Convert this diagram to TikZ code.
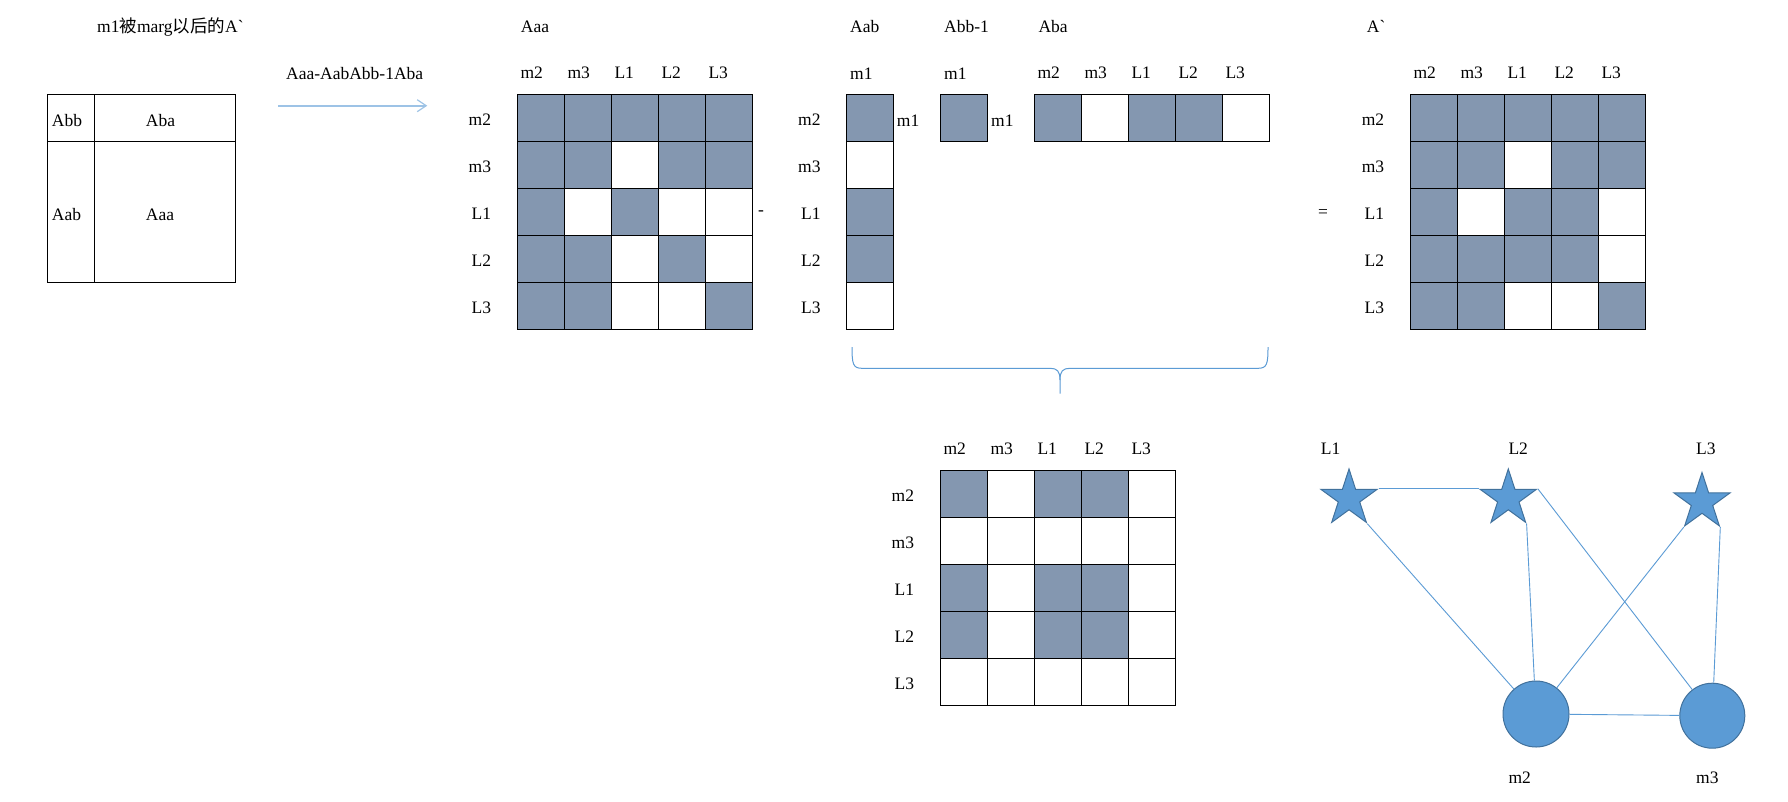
\documentclass[tikz,border=0pt]{standalone}
\usepackage{fontspec}
\setmainfont{Liberation Serif}
\newfontfamily\cjk{Noto Sans CJK SC}
\usetikzlibrary{shapes.geometric,arrows.meta}
\definecolor{cellc}{RGB}{132,151,176}
\definecolor{nodeblue}{RGB}{91,155,213}
\definecolor{nodeedge}{RGB}{65,113,156}
\definecolor{edgec}{RGB}{91,155,213}
\definecolor{arrowc}{RGB}{157,195,230}
\newcommand\lblsize{\fontsize{17.5}{20}\selectfont}
% #1 x0, #2 y0, #3 cols, #4 rows
\newcommand\mgrid[4]{%
  \foreach \i in {0,...,#3} \draw[gridline] ({#1+47*\i},#2) -- ({#1+47*\i},{#2+47*#4});
  \foreach \j in {0,...,#4} \draw[gridline] (#1,{#2+47*\j}) -- ({#1+47*#3},{#2+47*\j});
}
% #1 x0, #2 y0, #3 list of row/col filled
\newcommand\mfill[3]{%
  \foreach \r/\c in {#3} \fill[cellc] ({#1+47*\c},{#2+47*\r}) rectangle ++(47,47);
}
% row labels: #1 x0, #2 y0, #3 prefix
\newcommand\rowlabels[3]{%
  \foreach \n [count=\k from 0] in {m2,m3,L1,L2,L3}
    \node[lbl,anchor=base east] (#3r\k) at ({#1-26},{#2+47*\k+31.5}) {\n};
}
\newcommand\collabels[3]{%
  \foreach \n [count=\k from 0] in {m2,m3,L1,L2,L3}
    \node[lbl,anchor=base west] (#3c\k) at ({#1+47*\k+3},{#2-15.5}) {\n};
}
\begin{document}
\begin{tikzpicture}[x=1pt,y=-1pt,
  lbl/.style={font=\lblsize,inner sep=0pt},
  gridline/.style={draw=black,line width=1.2pt,line cap=rect},
  starnode/.style={star,star points=5,star point ratio=2.618,minimum size=59pt,inner sep=0pt,fill=nodeblue,draw=nodeedge,line width=1pt},
  circnode/.style={circle,minimum size=66pt,inner sep=0pt,fill=nodeblue,draw=nodeedge,line width=1pt},
  edge/.style={draw=edgec,line width=0.9pt}]
\useasboundingbox (0,0) rectangle (1788,801);
\fill[white] (0,0) rectangle (1788,801);

% ---- left block diagram
\node[lbl,anchor=base west] (title) at (97,32) {m1{\cjk 被}marg{\cjk 以后的}A\textasciigrave};
\draw[gridline] (47.3,94.3) rectangle (235.7,282.3);
\draw[gridline] (94.7,94.3) -- (94.7,282.3);
\draw[gridline] (47.3,141.3) -- (235.7,141.3);
\node[lbl,anchor=base west] (abb) at (51.7,126) {Abb};
\node[lbl,anchor=base west] (aba) at (145.7,126) {Aba};
\node[lbl,anchor=base west] (aab) at (51.7,220) {Aab};
\node[lbl,anchor=base west] (aaa) at (145.7,220) {Aaa};

% ---- arrow
\node[lbl,anchor=base west] (formula) at (286,79.3) {Aaa-AabAbb-1Aba};
\coordinate (arrA) at (278.3,105.7);
\coordinate (arrB) at (427.3,105.7);
\draw[draw=arrowc,line width=1.6pt,-{Straight Barb[length=9pt,width=12pt,line width=1.2pt]}] (arrA) -- (arrB);

% ---- Aaa
\node[lbl,anchor=base west] (tAaa) at (520.7,32) {Aaa};
\mfill{517.3}{94.3}{0/0,0/1,0/2,0/3,0/4,1/0,1/1,1/3,1/4,2/0,2/2,3/0,3/1,3/3,4/0,4/1,4/4}
\mgrid{517.3}{94.3}{5}{5}
\rowlabels{517.3}{94.3}{aaa}
\collabels{517.3}{94.3}{aaa}
\node[lbl] (minus) at (761,213) {-};

% ---- Aab
\node[lbl,anchor=base west] (tAab) at (850,32) {Aab};
\mfill{846.7}{94.3}{0/0,2/0,3/0}
\mgrid{846.7}{94.3}{1}{5}
\rowlabels{846.7}{94.3}{aab}
\node[lbl,anchor=base west] (aabc) at (850,79) {m1};
\node[lbl,anchor=base west] (aabm) at (896.7,126) {m1};

% ---- Abb-1
\node[lbl,anchor=base west] (tAbb) at (944,32) {Abb-1};
\mfill{940.3}{94.3}{0/0}
\mgrid{940.3}{94.3}{1}{1}
\node[lbl,anchor=base west] (abbc) at (944,79) {m1};
\node[lbl,anchor=base west] (abbm) at (991,126) {m1};

% ---- Aba
\node[lbl,anchor=base west] (tAba) at (1038.3,32) {Aba};
\mfill{1034.3}{94.3}{0/0,0/2,0/3}
\mgrid{1034.3}{94.3}{5}{1}
\collabels{1034.3}{94.3}{aba}

% ---- brace
\draw[draw=edgec,line width=1pt] (852,347) .. controls (852,364) and (853,368.3) .. (862,368.3)
  -- (1050,368.3) .. controls (1057,368.3) and (1060,371) .. (1060,380) -- (1060,393.5);
\draw[draw=edgec,line width=1pt] (1268,347) .. controls (1268,364) and (1267,368.3) .. (1258,368.3)
  -- (1070,368.3) .. controls (1063,368.3) and (1060,371) .. (1060,380);

% ---- equals and A`
\node[lbl] (eq) at (1323,213) {=};
\node[lbl,anchor=base west] (tAp) at (1366.7,32) {A\textasciigrave};
\mfill{1410.3}{94.3}{0/0,0/1,0/2,0/3,0/4,1/0,1/1,1/3,1/4,2/0,2/2,2/3,3/0,3/1,3/2,3/3,4/0,4/1,4/4}
\mgrid{1410.3}{94.3}{5}{5}
\rowlabels{1410.3}{94.3}{ap}
\collabels{1410.3}{94.3}{ap}

% ---- lower product matrix
\mfill{940.3}{470.3}{0/0,0/2,0/3,2/0,2/2,2/3,3/0,3/2,3/3}
\mgrid{940.3}{470.3}{5}{5}
\rowlabels{940.3}{470.3}{pr}
\collabels{940.3}{470.3}{pr}

% ---- graph
\node[starnode] (L1) at (1349,498.5) {};
\node[starnode] (L2) at (1508.3,498.5) {};
\node[starnode] (L3) at (1702,502) {};
\node[circnode] (m2) at (1536,714) {};
\node[circnode,minimum size=65pt] (m3) at (1712.3,715.7) {};
\draw[edge] (L1.18) -- (L2.162);
\draw[edge] (L1.-54) -- (m2);
\draw[edge] (L2.-54) -- (m2);
\draw[edge] (L2.18) -- (m3);
\draw[edge] (L3.-126) -- (m2);
\draw[edge] (L3.-54) -- (m3);
\draw[edge] (m2) -- (m3);
\node[lbl,anchor=base west] (lL1) at (1320.7,454.3) {L1};
\node[lbl,anchor=base west] (lL2) at (1508.3,454.3) {L2};
\node[lbl,anchor=base west] (lL3) at (1696,454.3) {L3};
\node[lbl,anchor=base west] (lm2) at (1508.3,783.3) {m2};
\node[lbl,anchor=base west] (lm3) at (1696,783.3) {m3};
\end{tikzpicture}
\end{document}
